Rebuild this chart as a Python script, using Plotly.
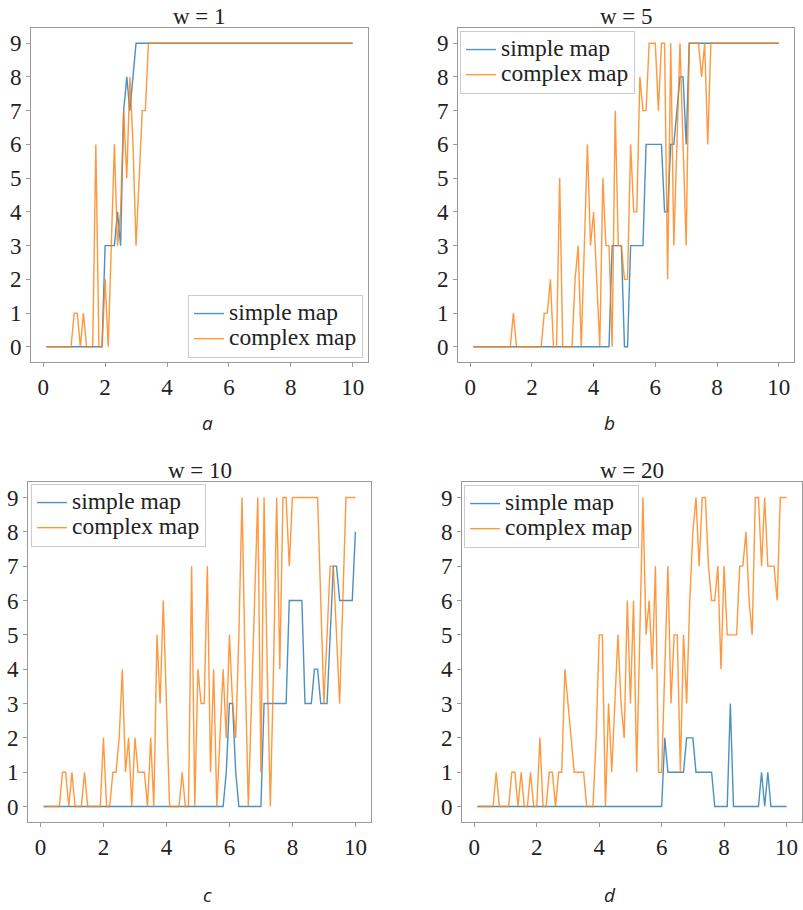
import plotly.graph_objects as go

# ---------------- data ----------------
x_vals = [0.1, 0.2, 0.3, 0.4, 0.5, 0.6, 0.7, 0.8, 0.9, 1.0,
          1.1, 1.2, 1.3, 1.4, 1.5, 1.6, 1.7, 1.8, 1.9, 2.0,
          2.1, 2.2, 2.3, 2.4, 2.5, 2.6, 2.7, 2.8, 2.9, 3.0,
          3.1, 3.2, 3.3, 3.4, 3.5, 3.6, 3.7, 3.8, 3.9, 4.0,
          4.1, 4.2, 4.3, 4.4, 4.5, 4.6, 4.7, 4.8, 4.9, 5.0,
          5.1, 5.2, 5.3, 5.4, 5.5, 5.6, 5.7, 5.8, 5.9, 6.0,
          6.1, 6.2, 6.3, 6.4, 6.5, 6.6, 6.7, 6.8, 6.9, 7.0,
          7.1, 7.2, 7.3, 7.4, 7.5, 7.6, 7.7, 7.8, 7.9, 8.0,
          8.1, 8.2, 8.3, 8.4, 8.5, 8.6, 8.7, 8.8, 8.9, 9.0,
          9.1, 9.2, 9.3, 9.4, 9.5, 9.6, 9.7, 9.8, 9.9, 10.0]

simple_w1 = [0, 0, 0, 0, 0, 0, 0, 0, 0, 0,
             0, 0, 0, 0, 0, 0, 0, 0, 0, 3,
             3, 3, 3, 4, 3, 7, 8, 7, 8, 9,
             9, 9, 9, 9, 9, 9, 9, 9, 9, 9,
             9, 9, 9, 9, 9, 9, 9, 9, 9, 9,
             9, 9, 9, 9, 9, 9, 9, 9, 9, 9,
             9, 9, 9, 9, 9, 9, 9, 9, 9, 9,
             9, 9, 9, 9, 9, 9, 9, 9, 9, 9,
             9, 9, 9, 9, 9, 9, 9, 9, 9, 9,
             9, 9, 9, 9, 9, 9, 9, 9, 9, 9]
complex_w1 = [0, 0, 0, 0, 0, 0, 0, 0, 0, 1,
              1, 0, 1, 0, 0, 0, 6, 0, 0, 2,
              0, 3, 6, 3, 4, 7, 5, 8, 6, 3,
              5, 7, 7, 9, 9, 9, 9, 9, 9, 9,
              9, 9, 9, 9, 9, 9, 9, 9, 9, 9,
              9, 9, 9, 9, 9, 9, 9, 9, 9, 9,
              9, 9, 9, 9, 9, 9, 9, 9, 9, 9,
              9, 9, 9, 9, 9, 9, 9, 9, 9, 9,
              9, 9, 9, 9, 9, 9, 9, 9, 9, 9,
              9, 9, 9, 9, 9, 9, 9, 9, 9, 9]

simple_w5 = [0, 0, 0, 0, 0, 0, 0, 0, 0, 0,
             0, 0, 0, 0, 0, 0, 0, 0, 0, 0,
             0, 0, 0, 0, 0, 0, 0, 0, 0, 0,
             0, 0, 0, 0, 0, 0, 0, 0, 0, 0,
             0, 0, 0, 0, 0, 3, 3, 3, 3, 0,
             0, 3, 3, 3, 3, 3, 6, 6, 6, 6,
             6, 6, 4, 4, 6, 6, 7, 8, 8, 6,
             9, 9, 9, 9, 9, 9, 9, 9, 9, 9,
             9, 9, 9, 9, 9, 9, 9, 9, 9, 9,
             9, 9, 9, 9, 9, 9, 9, 9, 9, 9]
complex_w5 = [0, 0, 0, 0, 0, 0, 0, 0, 0, 0,
              0, 0, 0, 1, 0, 0, 0, 0, 0, 0,
              0, 0, 0, 1, 1, 2, 0, 0, 5, 0,
              0, 0, 0, 2, 3, 0, 3, 6, 3, 4,
              2, 0, 5, 3, 3, 0, 7, 3, 3, 2,
              2, 6, 4, 4, 8, 7, 7, 9, 9, 9,
              7, 9, 9, 2, 9, 3, 6, 9, 6, 3,
              9, 9, 9, 9, 8, 9, 6, 9, 9, 9,
              9, 9, 9, 9, 9, 9, 9, 9, 9, 9,
              9, 9, 9, 9, 9, 9, 9, 9, 9, 9]

simple_w10 = [0, 0, 0, 0, 0, 0, 0, 0, 0, 0,
              0, 0, 0, 0, 0, 0, 0, 0, 0, 0,
              0, 0, 0, 0, 0, 0, 0, 0, 0, 0,
              0, 0, 0, 0, 0, 0, 0, 0, 0, 0,
              0, 0, 0, 0, 0, 0, 0, 0, 0, 0,
              0, 0, 0, 0, 0, 0, 0, 0, 1, 3,
              3, 1, 0, 0, 0, 0, 0, 0, 0, 0,
              3, 3, 3, 3, 3, 3, 3, 3, 6, 6,
              6, 6, 6, 3, 3, 3, 4, 4, 3, 3,
              3, 5, 7, 7, 6, 6, 6, 6, 6, 8]
complex_w10 = [0, 0, 0, 0, 0, 0, 1, 1, 0, 1,
               0, 0, 0, 1, 0, 0, 0, 0, 0, 2,
               0, 0, 1, 1, 2, 4, 1, 2, 0, 2,
               1, 1, 1, 0, 2, 0, 5, 3, 6, 3,
               0, 0, 0, 0, 1, 0, 0, 7, 0, 4,
               3, 3, 7, 1, 4, 0, 2, 4, 2, 5,
               3, 2, 5, 9, 4, 0, 3, 6, 9, 1,
               9, 4, 0, 4, 9, 4, 9, 9, 7, 9,
               9, 9, 9, 9, 9, 9, 9, 9, 6, 3,
               5, 7, 7, 5, 3, 6, 9, 9, 9, 9]

simple_w20 = [0, 0, 0, 0, 0, 0, 0, 0, 0, 0,
              0, 0, 0, 0, 0, 0, 0, 0, 0, 0,
              0, 0, 0, 0, 0, 0, 0, 0, 0, 0,
              0, 0, 0, 0, 0, 0, 0, 0, 0, 0,
              0, 0, 0, 0, 0, 0, 0, 0, 0, 0,
              0, 0, 0, 0, 0, 0, 0, 0, 0, 0,
              2, 1, 1, 1, 1, 1, 1, 2, 2, 2,
              1, 1, 1, 1, 1, 1, 0, 0, 0, 0,
              0, 3, 0, 0, 0, 0, 0, 0, 0, 0,
              0, 1, 0, 1, 0, 0, 0, 0, 0, 0]
complex_w20 = [0, 0, 0, 0, 0, 0, 1, 0, 0, 0,
               0, 1, 1, 0, 1, 0, 0, 1, 0, 0,
               2, 0, 0, 1, 1, 0, 1, 1, 4, 3,
               2, 1, 1, 1, 1, 0, 0, 0, 2, 5,
               5, 0, 3, 1, 3, 5, 3, 2, 6, 3,
               6, 1, 5, 9, 5, 6, 4, 7, 1, 1,
               4, 7, 3, 5, 5, 1, 5, 3, 6, 8,
               9, 7, 9, 9, 7, 6, 6, 7, 4, 7,
               5, 5, 5, 5, 7, 7, 8, 6, 5, 9,
               9, 7, 9, 7, 7, 7, 6, 9, 9, 9]

titles = ["w = 1", "w = 5", "w = 10", "w = 20"]
captions = ["a", "b", "c", "d"]
series_names = ["simple map", "complex map"]
x_ticks = [0, 2, 4, 6, 8, 10]
y_ticks = [0, 1, 2, 3, 4, 5, 6, 7, 8, 9]

# ---------------- layout ----------------
W, H = 803, 910
BLUE = "#1f77b4"
ORANGE = "#ff7f0e"
SERIF = "Liberation Serif, Times New Roman, serif"

# pixel boxes: left, right, top, bottom
boxes = [(31, 368, 28, 362), (458, 794, 28, 362),
         (28, 371, 482, 822), (462, 802, 482, 822)]
# legend anchor: (x_px, y_px, xanchor, yanchor)
legend_pos = [(363, 358, "right", "bottom"), (460, 31, "left", "top"),
              (31, 484, "left", "top"), (464, 485, "left", "top")]
caption_pos = [(208, 423), (609, 423), (208, 895), (610, 895)]

data_pairs = [(simple_w1, complex_w1), (simple_w5, complex_w5),
              (simple_w10, complex_w10), (simple_w20, complex_w20)]

fig = go.Figure()
layout = dict(width=W, height=H, margin=dict(l=0, r=0, t=0, b=0),
              paper_bgcolor="white", plot_bgcolor="white",
              showlegend=True, annotations=[])

for i, (simple, complex_) in enumerate(data_pairs):
    sfx = "" if i == 0 else str(i + 1)
    leg = "legend" if i == 0 else "legend" + str(i + 1)
    for name, vals, col in ((series_names[0], simple, BLUE),
                            (series_names[1], complex_, ORANGE)):
        fig.add_trace(go.Scatter(
            x=x_vals, y=vals, mode="lines",
            name='<span style="font-size:23.5px">' + name + '</span>',
            line=dict(color=col, width=1.4), opacity=0.8,
            xaxis="x" + sfx, yaxis="y" + sfx, legend=leg,
            hoverinfo="skip"))
    l, r, t, b = boxes[i]
    common = dict(showline=True, mirror=True, linecolor="#9a9a9a", linewidth=1,
                  ticks="outside", ticklen=4, tickcolor="#9a9a9a",
                  showgrid=False, zeroline=False,
                  tickfont=dict(family=SERIF, size=23, color="#222"))
    layout["xaxis" + sfx] = dict(domain=[l / W, r / W], range=[-0.395, 10.495],
                                 tickvals=x_ticks, anchor="y" + sfx, **common)
    layout["yaxis" + sfx] = dict(domain=[1 - b / H, 1 - t / H], range=[-0.45, 9.45],
                                 tickvals=y_ticks, anchor="x" + sfx, **common)
    lx, ly, xa, ya = legend_pos[i]
    layout[leg] = dict(x=lx / W, y=1 - ly / H, xanchor=xa, yanchor=ya,
                       bgcolor="rgba(255,255,255,0.85)", bordercolor="#cccccc",
                       borderwidth=1, font=dict(family=SERIF, size=17, color="#222"),
                       itemclick=False)
    layout["annotations"].append(dict(
        text=titles[i], xref="paper", yref="paper",
        x=(l + r) / 2 / W, y=1 - t / H, xanchor="center", yanchor="bottom",
        yshift=-3, showarrow=False, font=dict(family=SERIF, size=23, color="#222")))
    cx, cy = caption_pos[i]
    layout["annotations"].append(dict(
        text="<i>" + captions[i] + "</i>", xref="paper", yref="paper",
        x=cx / W, y=1 - cy / H, xanchor="center", yanchor="middle",
        showarrow=False, font=dict(family="Open Sans, sans-serif", size=19, color="#222")))

fig.update_layout(**layout)
fig.write_html("out.html")
